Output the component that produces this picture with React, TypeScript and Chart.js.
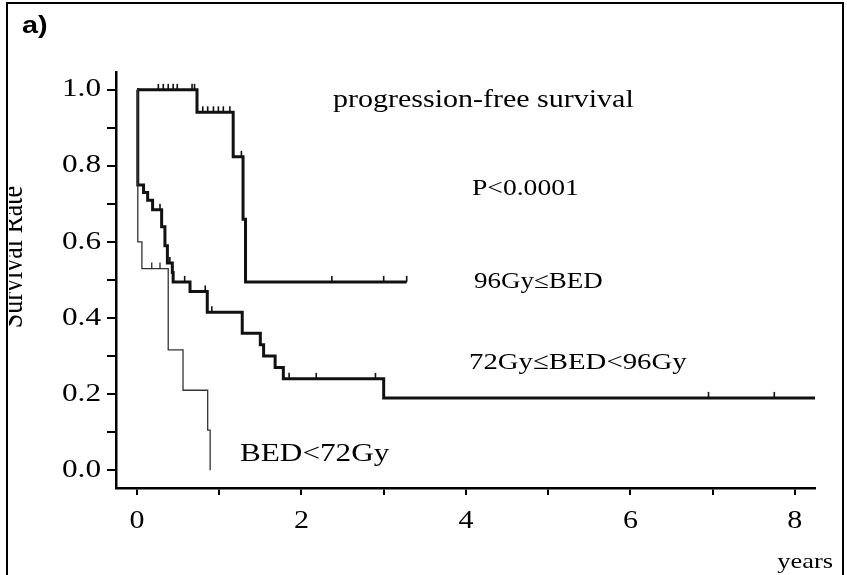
import { useEffect, useRef } from 'react';
import { Chart, registerables } from 'chart.js';

Chart.register(...registerables);

// ---- data (Kaplan-Meier step curves: event times and survival after each step) ----
const highTimes = [0, 0.73, 1.17, 1.29, 1.32, 3.28];
const highSurv = [1.0, 0.941, 0.824, 0.66, 0.495, 0.495];
const highCensor = [0.26, 0.32, 0.38, 0.44, 0.49, 0.67, 0.7, 0.8, 0.86, 0.93, 0.99, 1.05, 1.13, 1.27, 2.37, 3.0, 3.28];

const midTimes = [0, 0.01, 0.08, 0.13, 0.19, 0.3, 0.34, 0.37, 0.43, 0.44, 0.645, 0.855, 1.28, 1.5, 1.54, 1.68, 1.78, 3.0, 8.245];
const midSurv = [1.0, 0.75, 0.73, 0.71, 0.685, 0.64, 0.59, 0.545, 0.52, 0.495, 0.47, 0.415, 0.36, 0.33, 0.3, 0.27, 0.24, 0.19, 0.19];
const midCensor = [0.28, 0.4, 0.58, 0.83, 0.91, 1.85, 2.18, 2.9, 6.95, 7.75];

const lowTimes = [0, 0.01, 0.06, 0.38, 0.56, 0.86, 0.89];
const lowSurv = [1.0, 0.6, 0.53, 0.316, 0.21, 0.105, 0.0];
const lowCensor = [0.18, 0.28];

const groupLabels = ['96Gy\u2264BED', '72Gy\u2264BED<96Gy', 'BED<72Gy'];
const titleText = 'progression-free survival';
const pText = 'P<0.0001';
const yTitle = 'Survival Rate';
const xTitle = 'years';
const panelLabel = 'a)';

const xMin = -0.255;
const xMax = 8.245;
const yMin = -0.047;
const yMax = 1.047;

const SERIF = '"Liberation Serif", "Times New Roman", serif';
const SANS = '"Liberation Sans", Arial, sans-serif';

function survivalAt(times: number[], surv: number[], t: number) {
  let v = surv[0];
  for (let i = 0; i < times.length; i++) if (times[i] <= t) v = surv[i];
  return v;
}

function toPoints(times: number[], surv: number[]) {
  return times.map((x, i) => ({ x, y: surv[i] }));
}

function drawText(ctx: CanvasRenderingContext2D, text: string, x: number, y: number, font: string, align: CanvasTextAlign, baseline: CanvasTextBaseline, sx = 1.2) {
  ctx.save();
  ctx.translate(x, y);
  ctx.scale(sx, 1);
  ctx.font = font;
  ctx.fillStyle = '#000';
  ctx.textAlign = align;
  ctx.textBaseline = baseline;
  ctx.fillText(text, 0, 0);
  ctx.restore();
}

export default function App() {
  const ref = useRef<HTMLCanvasElement>(null);

  useEffect(() => {
    document.body.style.margin = '0';
    const canvas = ref.current;
    if (!canvas) return;

    const bgPlugin = {
      id: 'bg',
      beforeDraw(chart: any) {
        const ctx = chart.ctx;
        ctx.save();
        ctx.fillStyle = '#fff';
        ctx.fillRect(0, 0, chart.width, chart.height);
        ctx.restore();
      },
    };

    const censorPlugin = {
      id: 'censor',
      afterDatasetsDraw(chart: any) {
        const ctx = chart.ctx;
        const xs = chart.scales.x;
        const ys = chart.scales.y;
        const groups: [number[], number[], number[], number][] = [
          [highTimes, highSurv, highCensor, 1.6],
          [midTimes, midSurv, midCensor, 1.6],
          [lowTimes, lowSurv, lowCensor, 1.2],
        ];
        ctx.save();
        ctx.strokeStyle = '#111';
        for (const [t, s, c, w] of groups) {
          ctx.lineWidth = w;
          for (const ct of c) {
            const px = xs.getPixelForValue(ct);
            const py = ys.getPixelForValue(survivalAt(t, s, ct));
            ctx.beginPath();
            ctx.moveTo(px, py);
            ctx.lineTo(px, py - 6);
            ctx.stroke();
          }
        }
        ctx.restore();
      },
    };

    const textPlugin = {
      id: 'texts',
      afterDraw(chart: any) {
        const ctx = chart.ctx;
        const xs = chart.scales.x;
        const ys = chart.scales.y;

        // frame
        ctx.save();
        ctx.strokeStyle = '#000';
        ctx.lineWidth = 2;
        ctx.beginPath();
        ctx.moveTo(7, 575);
        ctx.lineTo(7, 3);
        ctx.lineTo(843, 3);
        ctx.lineTo(843, 575);
        ctx.stroke();
        ctx.restore();

        // tick labels
        for (const tk of ys.ticks) {
          const v = tk.value;
          if (Math.round(v * 10) % 2 !== 0) continue;
          drawText(ctx, v.toFixed(1), 101, ys.getPixelForValue(v), `25px ${SERIF}`, 'right', 'middle', 1.25);
        }
        for (const tk of xs.ticks) {
          const v = tk.value;
          if (Math.round(v) % 2 !== 0) continue;
          drawText(ctx, String(Math.round(v)), xs.getPixelForValue(v), 528, `25px ${SERIF}`, 'center', 'alphabetic', 1.2);
        }

        // annotations
        drawText(ctx, titleText, 333, 107, `25px ${SERIF}`, 'left', 'alphabetic');
        drawText(ctx, pText, 472, 195, `23px ${SERIF}`, 'left', 'alphabetic');
        drawText(ctx, groupLabels[0], 474, 288, `22.5px ${SERIF}`, 'left', 'alphabetic');
        drawText(ctx, groupLabels[1], 469, 369, `24px ${SERIF}`, 'left', 'alphabetic');
        drawText(ctx, groupLabels[2], 240, 461, `26px ${SERIF}`, 'left', 'alphabetic');
        drawText(ctx, xTitle, 833, 568, `22px ${SERIF}`, 'right', 'alphabetic');
        drawText(ctx, panelLabel, 22, 33, `bold 24px ${SANS}`, 'left', 'alphabetic', 1.2);

        // rotated y title, clipped by the frame
        ctx.save();
        ctx.beginPath();
        ctx.rect(9, 0, 200, 575);
        ctx.clip();
        ctx.translate(22, 257);
        ctx.rotate(-Math.PI / 2);
        ctx.scale(1, 1.2);
        ctx.font = `26px ${SERIF}`;
        ctx.fillStyle = '#000';
        ctx.textAlign = 'center';
        ctx.textBaseline = 'alphabetic';
        ctx.fillText(yTitle, 0, 0);
        ctx.restore();
      },
    };

    const chart = new Chart(canvas, {
      type: 'line',
      data: {
        datasets: [
          {
            label: groupLabels[2],
            data: toPoints(lowTimes, lowSurv),
            borderColor: '#333',
            borderWidth: 1.3,
            stepped: 'before',
            pointRadius: 0,
            fill: false,
          },
          {
            label: groupLabels[1],
            data: toPoints(midTimes, midSurv),
            borderColor: '#111',
            borderWidth: 3,
            stepped: 'before',
            pointRadius: 0,
            fill: false,
          },
          {
            label: groupLabels[0],
            data: toPoints(highTimes, highSurv),
            borderColor: '#111',
            borderWidth: 3,
            stepped: 'before',
            pointRadius: 0,
            fill: false,
          },
        ],
      },
      options: {
        responsive: false,
        animation: false,
        devicePixelRatio: 1,
        layout: { padding: { left: 0, top: 72, right: 32, bottom: 0 } },
        plugins: { legend: { display: false }, tooltip: { enabled: false } },
        elements: { line: { borderCapStyle: 'butt', borderJoinStyle: 'miter' } },
        scales: {
          x: {
            type: 'linear',
            min: xMin,
            max: xMax,
            ticks: { stepSize: 1, includeBounds: false, display: false },
            grid: { drawOnChartArea: false, drawTicks: true, tickLength: 7, color: '#000', lineWidth: 2 },
            border: { color: '#000', width: 2.5 },
            afterFit: (s: any) => { s.height = 87; },
          },
          y: {
            type: 'linear',
            min: yMin,
            max: yMax,
            ticks: { stepSize: 0.1, includeBounds: false, display: false },
            grid: { drawOnChartArea: false, drawTicks: true, tickLength: 9, color: '#000', lineWidth: 2 },
            border: { color: '#000', width: 2.5 },
            afterFit: (s: any) => { s.width = 116; },
          },
        },
      } as any,
      plugins: [bgPlugin, censorPlugin, textPlugin],
    });

    return () => chart.destroy();
  }, []);

  return (
    <div style={{ position: 'fixed', left: 0, top: 0, width: 847, height: 575, background: '#fff' }}>
      <canvas ref={ref} width={847} height={575} style={{ display: 'block', width: 847, height: 575 }} />
    </div>
  );
}
